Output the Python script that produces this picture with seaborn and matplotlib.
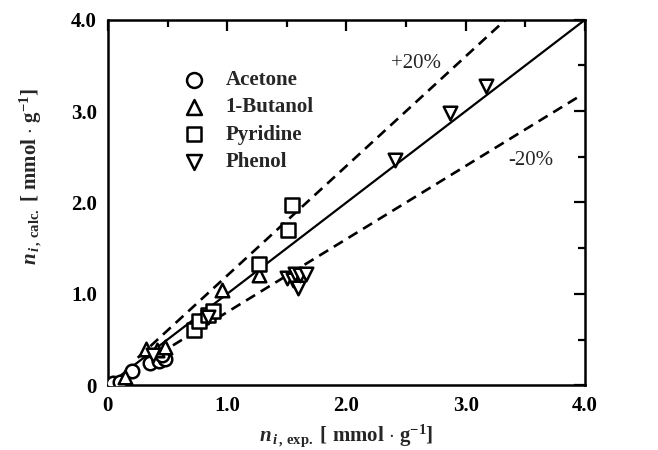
import matplotlib
matplotlib.use("Agg")
import matplotlib.pyplot as plt
import seaborn as sns
import pandas as pd
from matplotlib.ticker import MultipleLocator, FixedFormatter, FixedLocator

# values (n_exp, n_calc) in mmol/g
acetone_exp = [0.04, 0.10, 0.20, 0.35, 0.43, 0.48, 0.45]
acetone_calc = [0.02, 0.04, 0.15, 0.24, 0.27, 0.29, 0.33]
butanol_exp = [0.14, 0.32, 0.41, 0.48, 0.96, 1.27]
butanol_calc = [0.09, 0.40, 0.38, 0.42, 1.04, 1.21]
pyridine_exp = [0.72, 0.76, 0.84, 0.88, 1.27, 1.51, 1.54]
pyridine_calc = [0.60, 0.70, 0.77, 0.81, 1.33, 1.70, 1.97]
phenol_exp = [0.38, 0.84, 1.50, 1.55, 1.57, 1.59, 1.61, 1.66, 2.41, 2.87, 3.17]
phenol_calc = [0.33, 0.75, 1.17, 1.15, 1.22, 1.06, 1.21, 1.22, 2.47, 2.98, 3.28]

names = ["Acetone", "1-Butanol", "Pyridine", "Phenol"]
markers = ["o", "^", "s", "v"]
series = [(acetone_exp, acetone_calc), (butanol_exp, butanol_calc),
          (pyridine_exp, pyridine_calc), (phenol_exp, phenol_calc)]

sns.set_style("white")
plt.rcParams["font.family"] = ["Liberation Serif", "DejaVu Serif"]
plt.rcParams["mathtext.fontset"] = "custom"
plt.rcParams["mathtext.it"] = "Liberation Serif:italic:bold"
plt.rcParams["mathtext.rm"] = "Liberation Serif:bold"

fig = plt.figure(figsize=(6.58, 4.5), dpi=100)
ax = fig.add_axes([0.164, 0.144, 0.725, 0.812])

# parity line and +/-20 % bands
ax.plot([0, 4], [0, 4], color="black", lw=1.6)
ax.plot([0.25, 3.4], [0.3, 4.08], color="black", lw=1.9, ls=(0, (4, 2.5)))
ax.plot([0.3, 3.95], [0.24, 3.16], color="black", lw=1.9, ls=(0, (4, 2.5)))

for (xs, ys), name, m in zip(series, names, markers):
    df = pd.DataFrame({"exp": xs, "calc": ys})
    sns.scatterplot(data=df, x="exp", y="calc", marker=m, s=95,
                    facecolor="white", edgecolor="black", linewidth=1.8,
                    label=name, ax=ax, zorder=3)

ax.text(2.58, 3.52, "+20%", fontsize=15, ha="center", va="center")
ax.text(3.55, 2.46, "-20%", fontsize=15, ha="center", va="center")

ax.set_xlim(0, 4)
ax.set_ylim(0, 4)
ticks = [0, 1, 2, 3, 4]
tlabels = ["0", "1.0", "2.0", "3.0", "4.0"]
ax.xaxis.set_major_locator(FixedLocator(ticks))
ax.yaxis.set_major_locator(FixedLocator(ticks))
ax.xaxis.set_major_formatter(FixedFormatter(tlabels))
ax.yaxis.set_major_formatter(FixedFormatter(tlabels))
ax.xaxis.set_minor_locator(MultipleLocator(0.5))
ax.yaxis.set_minor_locator(MultipleLocator(0.5))
ax.tick_params(which="both", direction="in", top=True, right=True,
               width=1.6, colors="black")
ax.tick_params(which="major", length=8, labelsize=15, pad=8)
ax.tick_params(which="minor", length=5)
for lab in ax.get_xticklabels() + ax.get_yticklabels():
    lab.set_fontweight("bold")
for sp in ax.spines.values():
    sp.set_linewidth(1.8)
    sp.set_color("black")

ax.set_xlabel(r"$n_{\,i\,,\,\mathrm{exp.}}$ [ mmol $\cdot$ g$^{\mathrm{-1}}$]",
              fontsize=15, fontweight="bold")
ax.set_ylabel(r"$n_{\,i\,,\,\mathrm{calc.}}$ [ mmol $\cdot$ g$^{\mathrm{-1}}$]",
              fontsize=15, fontweight="bold")
ax.yaxis.set_label_coords(-0.135, 0.57)

leg = ax.legend(loc="upper left", bbox_to_anchor=(0.12, 0.885), frameon=False,
                fontsize=15, handletextpad=0.5, labelspacing=0.35,
                borderaxespad=0, markerscale=1.1)
for t in leg.get_texts():
    t.set_fontweight("bold")

fig.savefig("out.png", dpi=100)
